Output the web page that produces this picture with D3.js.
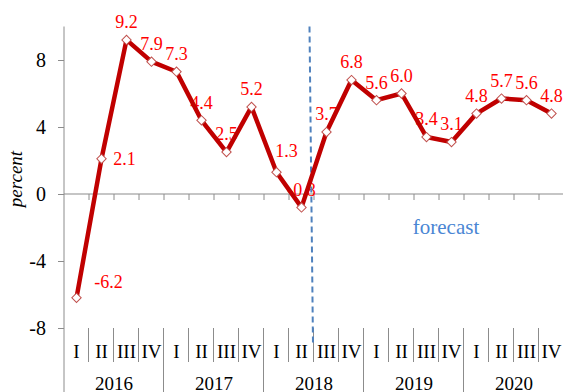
<!DOCTYPE html>
<html>
<head>
<meta charset="utf-8">
<script src="https://cdn.jsdelivr.net/npm/d3@7"></script>
<style>
  body { margin: 0; background: #fff; }
  svg { display: block; }
</style>
</head>
<body>
<div id="chart"></div>
<script>
'use strict';

// data
let years = ['2016', '2017', '2018', '2019', '2020'];
let quarters = ['I', 'II', 'III', 'IV'];
let values = [-6.2, 2.1, 9.2, 7.9, 7.3, 4.4, 2.5, 5.2, 1.3, -0.8,
              3.7, 6.8, 5.6, 6.0, 3.4, 3.1, 4.8, 5.7, 5.6, 4.8];
let yTicks = [-8, -4, 0, 4, 8];
let forecastStart = 10; // index of first forecast quarter

let width = 563,
    height = 392;
let serif = '"Liberation Serif", "Times New Roman", Times, serif';

let svg = d3.select('#chart').append('svg')
    .attr('width', width)
    .attr('height', height)
    .style('font-family', serif);

let cats = [];
years.forEach(function(yr) {
    quarters.forEach(function(q) {
        cats.push(yr + '-' + q);
    });
});

let x = d3.scaleBand().domain(cats).range([64, 564]);
let y = d3.scaleLinear().domain([-8, 10]).range([328, 26.5]);

let axisGrey = '#8c8c8c';

// y axis
let gY = svg.append('g')
    .attr('transform', 'translate(64,0)')
    .call(d3.axisLeft(y).tickValues(yTicks).tickSize(6).tickPadding(12)
        .tickFormat(function(d) { return String(d); }));
gY.attr('font-family', null);
gY.select('.domain').remove();
gY.selectAll('.tick line').attr('stroke', axisGrey);
gY.selectAll('.tick text')
    .attr('font-size', 20)
    .attr('fill', '#000')
    .style('font-family', serif);

// y axis line running down through the category labels
svg.append('line')
    .attr('x1', 64).attr('x2', 64)
    .attr('y1', y(10)).attr('y2', height)
    .attr('stroke', axisGrey).attr('stroke-width', 1);

// zero line with ticks at every category boundary
svg.append('line')
    .attr('x1', 64).attr('x2', 564)
    .attr('y1', y(0)).attr('y2', y(0))
    .attr('stroke', axisGrey).attr('stroke-width', 1.2);
svg.append('g').selectAll('line')
    .data(cats)
    .enter().append('line')
    .attr('x1', function(d) { return x(d) + x.bandwidth(); })
    .attr('x2', function(d) { return x(d) + x.bandwidth(); })
    .attr('y1', y(0))
    .attr('y2', y(0) + 6)
    .attr('stroke', axisGrey);

// category separators (quarters short, years long)
let sepTop = y(-8);
svg.append('g').selectAll('line')
    .data(cats)
    .enter().append('line')
    .attr('x1', function(d) { return Math.round(x(d) + x.bandwidth()) - 0.5; })
    .attr('x2', function(d) { return Math.round(x(d) + x.bandwidth()) - 0.5; })
    .attr('y1', sepTop)
    .attr('y2', function(d, i) { return (i % 4 === 3) ? height : sepTop + 34; })
    .attr('stroke', axisGrey);

// quarter labels
svg.append('g').selectAll('text')
    .data(cats)
    .enter().append('text')
    .attr('x', function(d) { return x(d) + x.bandwidth() / 2; })
    .attr('y', 358)
    .attr('text-anchor', 'middle')
    .attr('font-size', 19)
    .attr('fill', '#000')
    .text(function(d) { return d.split('-')[1]; });

// year labels
svg.append('g').selectAll('text')
    .data(years)
    .enter().append('text')
    .attr('x', function(d) { return x(d + '-II') + x.bandwidth(); })
    .attr('y', 390)
    .attr('text-anchor', 'middle')
    .attr('font-size', 19)
    .attr('fill', '#000')
    .text(function(d) { return d; });

// y label
svg.append('text')
    .attr('transform', 'translate(22,179) rotate(-90)')
    .attr('text-anchor', 'middle')
    .attr('font-size', 19)
    .attr('font-style', 'italic')
    .attr('fill', '#000')
    .text('percent');

// value labels (drawn under the line)
let labelNudge = { 0: [32, 2], 1: [23, 18], 8: [10, -4] };
svg.append('g').selectAll('text')
    .data(values)
    .enter().append('text')
    .attr('x', function(d, i) {
        let n = labelNudge[i] || [0, 0];
        return x(cats[i]) + x.bandwidth() / 2 + n[0];
    })
    .attr('y', function(d, i) {
        let n = labelNudge[i] || [0, 0];
        return y(d) - 18 + n[1];
    })
    .attr('dy', '0.35em')
    .attr('text-anchor', 'middle')
    .attr('font-size', 18)
    .attr('fill', '#ff0000')
    .text(function(d) { return d.toFixed(1); });

// forecast divider
let bx = x(cats[forecastStart]);
svg.append('line')
    .attr('x1', bx - 4.5).attr('x2', bx - 1)
    .attr('y1', y(10)).attr('y2', 345)
    .attr('stroke', '#4f81bd')
    .attr('stroke-width', 2)
    .attr('stroke-dasharray', '6,4');

svg.append('text')
    .attr('x', x('2019-IV') + 7)
    .attr('y', y(-2.4))
    .attr('text-anchor', 'middle')
    .attr('font-size', 21)
    .attr('fill', '#4a86d4')
    .text('forecast');

// series line
let line = d3.line()
    .x(function(d, i) { return x(cats[i]) + x.bandwidth() / 2; })
    .y(function(d) { return y(d); });

svg.append('path')
    .datum(values)
    .attr('d', line)
    .attr('fill', 'none')
    .attr('stroke', '#c00000')
    .attr('stroke-width', 4.5)
    .attr('stroke-linejoin', 'round');

// markers
svg.append('g').selectAll('path')
    .data(values)
    .enter().append('path')
    .attr('d', d3.symbol(d3.symbolSquare, 44))
    .attr('transform', function(d, i) {
        return 'translate(' + (x(cats[i]) + x.bandwidth() / 2) + ',' + y(d) + ') rotate(45)';
    })
    .attr('fill', '#fff')
    .attr('stroke', '#c0504d')
    .attr('stroke-width', 1);
</script>
</body>
</html>
